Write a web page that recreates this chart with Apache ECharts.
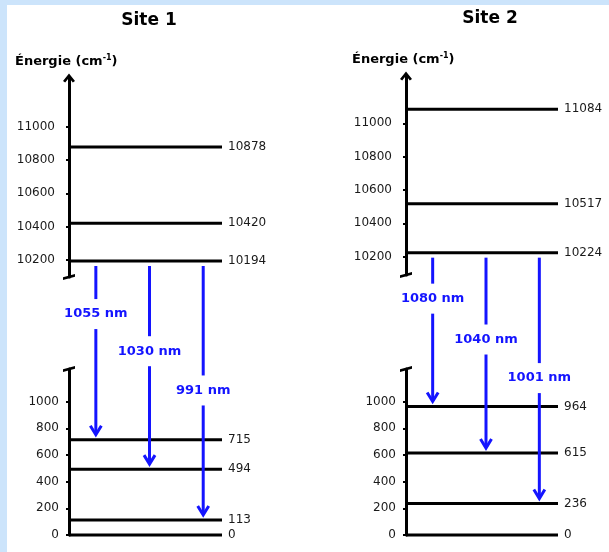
<!DOCTYPE html>
<html><head><meta charset="utf-8">
<script src="https://cdn.jsdelivr.net/npm/echarts@6/dist/echarts.min.js"></script>
<style>html,body{margin:0;padding:0;background:#fff}#c{width:609px;height:552px}</style>
</head><body><div id="c"></div>
<script>
// ---- data ----
const siteTitles = ['Site 1', 'Site 2'];
const axisTitle = 'Énergie (cm';
const axisTitleSup = '-1';
const site1Upper = [10194, 10420, 10878];
const site1Lower = [0, 113, 494, 715];
const site1From = [10194, 10194, 10194];
const site1To = [715, 494, 113];
const site1Wave = ['1055 nm', '1030 nm', '991 nm'];
const site2Upper = [10224, 10517, 11084];
const site2Lower = [0, 236, 615, 964];
const site2From = [10224, 10224, 10224];
const site2To = [964, 615, 236];
const site2Wave = ['1080 nm', '1040 nm', '1001 nm'];
const upperTicks = [10200, 10400, 10600, 10800, 11000];
const lowerTicks = [0, 200, 400, 600, 800, 1000];
const slots = [0.5, 1.5, 2.5];

// ---- styling / layout ----
const X_MAX = 2.85;
const BLUE = '#1414ff';
const LABEL_FRAC = [0.285, 0.43, 0.5];
const FONT = '"DejaVu Sans", sans-serif';
const CHEVRON = 'path://M6,0 L12,7.5 L9.8,9 L6,4.2 L2.2,9 L0,7.5 Z';
const SLASH = 'path://M0,3.2 L12,0 L12,2.6 L0,5.8 Z';

const chart = echarts.init(document.getElementById('c'), null, {renderer: 'canvas'});

const grids = [
  {left: 69, top: 78, width: 153, height: 199},
  {left: 69, top: 369, width: 153, height: 166},
  {left: 406, top: 76, width: 152, height: 199},
  {left: 406, top: 369, width: 152, height: 166}
].map(g => Object.assign({outerBoundsMode: 'none', containLabel: false}, g));

const xAxes = grids.map((g, i) => ({type: 'value', gridIndex: i, min: 0, max: X_MAX, show: false}));

function yAx(grid, min, max, ticks, margin, symbols) {
  return {
    type: 'value', gridIndex: grid, min: min, max: max,
    splitLine: {show: false},
    axisLine: {show: true, onZero: false, symbol: symbols, symbolSize: [12, 9],
      lineStyle: {color: '#000', width: 3}},
    axisTick: {show: true, customValues: ticks, length: 3, lineStyle: {color: '#000', width: 2}},
    axisLabel: {show: true, customValues: ticks, margin: margin, color: '#1a1a1a',
      fontFamily: FONT, fontSize: 12, formatter: function (v) { return String(v); }}
  };
}
const yAxes = [
  yAx(0, 10098, 11292, upperTicks, 14, [SLASH, CHEVRON]),
  yAx(1, 0, 1245, lowerTicks, 10, ['none', SLASH]),
  yAx(2, 10090, 11284, upperTicks, 14, [SLASH, CHEVRON]),
  yAx(3, 0, 1245, lowerTicks, 10, ['none', SLASH])
];

function levelRender(params, api) {
  const e = api.value(0);
  const a = api.coord([0, e]);
  const b = api.coord([X_MAX, e]);
  return {type: 'group', children: [
    {type: 'line', shape: {x1: a[0], y1: a[1], x2: b[0], y2: b[1]},
      style: {stroke: '#000', lineWidth: 3}},
    {type: 'text', x: b[0] + 6, y: b[1],
      style: {text: String(e), fill: '#1a1a1a', font: '12px ' + FONT,
        align: 'left', verticalAlign: 'middle', textAlign: 'left', textVerticalAlign: 'middle'}}
  ]};
}
function levelSeries(grid, arr) {
  return {type: 'custom', xAxisIndex: grid, yAxisIndex: grid, coordinateSystem: 'cartesian2d',
    encode: {y: 0}, data: arr.map(e => [e]), renderItem: levelRender, silent: true};
}

function arrowSeries(lowerGrid, upperGrid, from, to, waves) {
  return {
    type: 'custom', xAxisIndex: lowerGrid, yAxisIndex: lowerGrid, coordinateSystem: 'cartesian2d',
    encode: {x: 0, y: 2}, silent: true, clip: false, z: 5,
    data: slots.map((s, i) => [s, from[i], to[i]]),
    renderItem: function (params, api) {
      const slot = api.value(0), eFrom = api.value(1), eTo = api.value(2);
      const idx = params.dataIndex;
      const lo = api.coord([slot, eTo]);
      const up = chart.convertToPixel({gridIndex: upperGrid}, [slot, eFrom]);
      const x = lo[0];
      const y0 = up[1] + 5, y1 = lo[1] - 5;
      const ly = y0 + (y1 - y0) * LABEL_FRAC[idx];
      const st = {stroke: BLUE, lineWidth: 3, fill: null};
      return {type: 'group', children: [
        {type: 'line', shape: {x1: x, y1: y0, x2: x, y2: ly - 15}, style: st},
        {type: 'line', shape: {x1: x, y1: ly + 15, x2: x, y2: y1 - 1}, style: st},
        {type: 'polyline', shape: {points: [[x - 5.5, y1 - 9], [x, y1], [x + 5.5, y1 - 9]]},
          style: {stroke: BLUE, lineWidth: 3, fill: null, lineJoin: 'miter'}},
        {type: 'text', x: x, y: ly,
          style: {text: waves[idx], fill: BLUE, font: 'bold 13px ' + FONT,
            align: 'center', verticalAlign: 'middle', textAlign: 'center', textVerticalAlign: 'middle'}}
      ]};
    }
  };
}

function titleText(x, y, txt) {
  return {type: 'text', x: x, y: y,
    style: {text: txt, fill: '#000', font: 'bold 17px ' + FONT,
      align: 'center', verticalAlign: 'middle', textAlign: 'center', textVerticalAlign: 'middle'}};
}
function energyText(x, y) {
  return {type: 'text', x: x, y: y,
    style: {text: '{a|' + axisTitle + '}{s|' + axisTitleSup + '}{a|)}',
      align: 'left', verticalAlign: 'middle', textAlign: 'left', textVerticalAlign: 'middle',
      rich: {
        a: {font: 'bold 13px ' + FONT, fill: '#000', color: '#000', lineHeight: 16},
        s: {font: 'bold 8px ' + FONT, fill: '#000', color: '#000', verticalAlign: 'top', lineHeight: 16}
      }}};
}

chart.setOption({
  backgroundColor: '#ffffff',
  animation: false,
  grid: grids,
  xAxis: xAxes,
  yAxis: yAxes,
  graphic: [
    {type: 'rect', shape: {x: 0, y: 0, width: 7, height: 552}, style: {fill: '#cce4fb'}, z: -10},
    {type: 'rect', shape: {x: 0, y: 0, width: 609, height: 5}, style: {fill: '#cce4fb'}, z: -10},
    titleText(149, 21, siteTitles[0]),
    titleText(490, 19, siteTitles[1]),
    energyText(15, 62),
    energyText(352, 60)
  ],
  series: [
    levelSeries(0, site1Upper),
    levelSeries(1, site1Lower),
    levelSeries(2, site2Upper),
    levelSeries(3, site2Lower),
    arrowSeries(1, 0, site1From, site1To, site1Wave),
    arrowSeries(3, 2, site2From, site2To, site2Wave)
  ]
});
</script></body></html>
